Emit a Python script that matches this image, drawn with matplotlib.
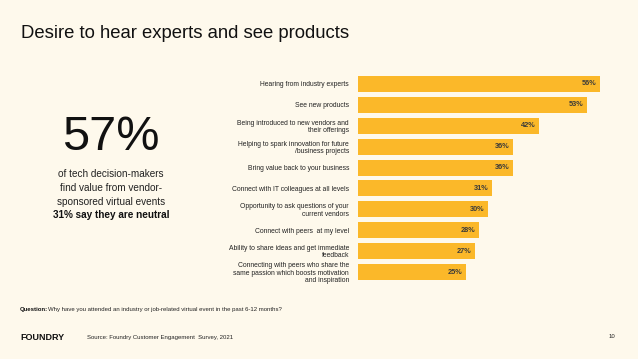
import matplotlib.pyplot as plt

plt.rcParams['font.family'] = ['Liberation Sans', 'DejaVu Sans']

# --- data ---
categories = [
    "Hearing from industry experts",
    "See new products",
    "Being introduced to new vendors and\ntheir offerings",
    "Helping to spark innovation for future\n/business projects",
    "Bring value back to your business",
    "Connect with IT colleagues at all levels",
    "Opportunity to ask questions of your\ncurrent vendors",
    "Connect with peers  at my level",
    "Ability to share ideas and get immediate\nfeedback",
    "Connecting with peers who share the\nsame passion which boosts motivation\nand inspiration",
]
values = [56, 53, 42, 36, 36, 31, 30, 28, 27, 25]

BG = '#fef9ec'
BAR = '#fbb829'
W, H = 638, 359

fig = plt.figure(figsize=(W / 100, H / 100), dpi=100, facecolor=BG)


def px(x0, y0, w, h):
    # pixel box (top-left origin) -> figure fraction
    return [x0 / W, 1 - (y0 + h) / H, w / W, h / H]


# --- bar chart ---
ax = fig.add_axes(px(358, 73.5, 259, 209))
ax.set_facecolor('none')
pos = list(range(len(categories)))
ax.barh(pos, values, height=0.77, color=BAR, edgecolor='none')
ax.set_xlim(0, 60)
ax.set_ylim(len(categories) - 0.5, -0.5)
ax.set_yticks(pos)
ax.set_yticklabels(categories, fontsize=4.9, color='#222222', linespacing=1.05)
ax.tick_params(axis='y', length=0, pad=6.5)
ax.set_xticks([])
for s in ax.spines.values():
    s.set_visible(False)
for p, v in zip(pos, values):
    ax.text(v - 0.8, p, f"{v}%", ha='right', va='center', fontsize=5.3,
            fontweight='bold', color='#3a3a3a')

# --- title ---
fig.text(21 / W, 1 - 33 / H, "Desire to hear experts and see products",
         fontsize=13.3, va='center', ha='left', color='#111111')

# --- left callout ---
fig.text(111 / W, 1 - 138 / H, "57%", fontsize=35, ha='center', va='center',
         color='#111111')
callout = ["of tech decision-makers", "find value from vendor-",
           "sponsored virtual events"]
for i, line in enumerate(callout):
    fig.text(111 / W, 1 - (174 + 14 * i) / H, line, fontsize=7.2,
             ha='center', va='center', color='#222222')
fig.text(111 / W, 1 - 215 / H, "31% say they are neutral", fontsize=7.2,
         ha='center', va='center', fontweight='bold', color='#111111')

# --- footer ---
fig.text(20 / W, 1 - 309.5 / H, "Question:", fontsize=4.3,
         fontweight='bold', va='center', ha='left', color='#111111')
fig.text(48 / W, 1 - 309.5 / H,
         "Why have you attended an industry or job-related virtual event in the past 6-12 months?",
         fontsize=4.3, va='center', ha='left', color='#222222')
fig.text(20 / W, 1 - 337 / H, "FOUNDRY", fontsize=6.5, fontweight='bold',
         va='center', ha='left', color='#111111')
fig.text(87 / W, 1 - 337 / H, "Source: Foundry Customer Engagement  Survey, 2021",
         fontsize=4.3, va='center', ha='left', color='#222222')
fig.text(615 / W, 1 - 337 / H, "10", fontsize=4.3, va='center', ha='right',
         color='#222222')

fig.savefig('out.png', dpi=100, facecolor=BG)
